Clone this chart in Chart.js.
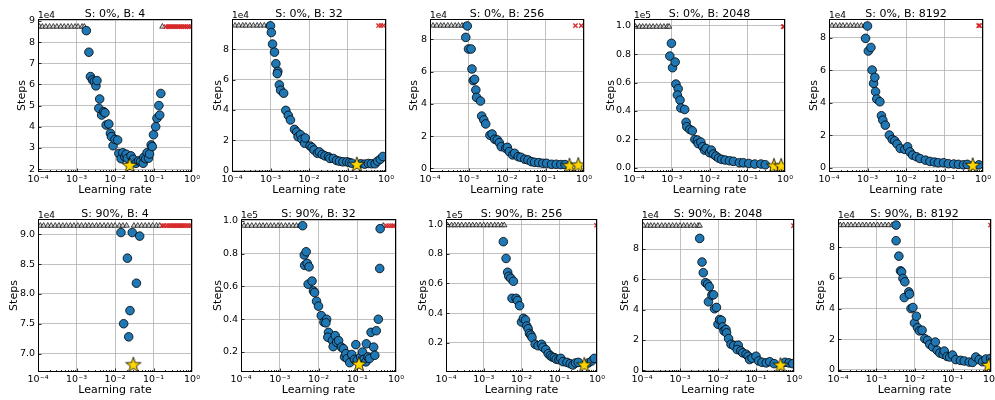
<!DOCTYPE html>
<html>
<head>
<meta charset="utf-8">
<script src="https://cdn.jsdelivr.net/npm/chart.js@4"></script>
<style>
  body { margin: 0; background: #fff; }
  #fig { position: relative; width: 995px; height: 400px; overflow: hidden; background: #fff; }
  #fig canvas { position: absolute; }
</style>
</head>
<body>
<div id="fig"></div>
<script>
// ---- tick labels ----
const xTicks = [1e-4, 1e-3, 1e-2, 1e-1, 1];
const xTickLabels = ['10⁻⁴', '10⁻³', '10⁻²', '10⁻¹', '10⁰'];

const yTicksTwoToNine = [20000, 30000, 40000, 50000, 60000, 70000, 80000, 90000];
const yLabelsTwoToNine = ['2', '3', '4', '5', '6', '7', '8', '9'];
const yTicksZeroToEight = [0, 20000, 40000, 60000, 80000];
const yLabelsZeroToEight = ['0', '2', '4', '6', '8'];
const yTicksZeroToOne = [0, 20000, 40000, 60000, 80000, 100000];
const yLabelsZeroToOne = ['0.0', '0.2', '0.4', '0.6', '0.8', '1.0'];
const yTicksSevenToNine = [70000, 75000, 80000, 85000, 90000];
const yLabelsSevenToNine = ['7.0', '7.5', '8.0', '8.5', '9.0'];
const yTicksPointTwoToOne = [20000, 40000, 60000, 80000, 100000];
const yLabelsPointTwoToOne = ['0.2', '0.4', '0.6', '0.8', '1.0'];

// ---- S: 0%, B: 4 ----  [learning rate, steps]
const s0b4Runs = [
  [1.8e-3, 85400], [2.1e-3, 75200], [2.3e-3, 63700], [2.6e-3, 62100], [2.9e-3, 61300],
  [3.2e-3, 59300], [3.4e-3, 61800], [4.0e-3, 53100], [3.8e-3, 48700], [4.5e-3, 45500],
  [5.1e-3, 47100], [5.5e-3, 46600], [5.9e-3, 40800], [6.9e-3, 41300], [7.6e-3, 36900],
  [8.1e-3, 35300], [8.9e-3, 31000], [1.0e-2, 34000], [1.17e-2, 33700], [1.26e-2, 27400],
  [1.44e-2, 24900], [1.6e-2, 27700], [1.8e-2, 25800], [1.95e-2, 27000], [2.1e-2, 25100],
  [2.6e-2, 26200], [2.95e-2, 24600], [3.5e-2, 22700], [4.1e-2, 23900], [4.6e-2, 23500],
  [5.4e-2, 22700], [5.6e-2, 25500], [6.3e-2, 24900], [6.8e-2, 27700], [7.4e-2, 25100],
  [7.9e-2, 27100], [8.7e-2, 31400], [9.3e-2, 30600], [0.100, 36200], [0.114, 40000],
  [0.123, 44000], [0.138, 50000], [0.145, 45500], [0.155, 55700]
];
const s0b4Best = [[2.4e-2, 21900]];
const s0b4CapLr = [1.1e-4, 1.3e-4, 1.6e-4, 2.0e-4, 2.5e-4, 3.1e-4, 3.9e-4, 4.8e-4, 6.0e-4, 7.4e-4, 9.2e-4, 1.1e-3, 1.4e-3, 1.6e-3, 0.17];
const s0b4CapSteps = 87300;
const s0b4DivLr = [0.21, 0.24, 0.27, 0.30, 0.34, 0.38, 0.43, 0.48, 0.54, 0.61, 0.68, 0.77, 0.86, 0.97];

// ---- S: 0%, B: 32 ----
const s0b32Runs = [
  [1.0e-3, 95300], [1.05e-3, 90900], [1.13e-3, 83300], [1.27e-3, 78000], [1.38e-3, 70400],
  [1.55e-3, 65400], [1.5e-3, 63900], [1.7e-3, 56500], [1.83e-3, 53000], [2.2e-3, 51000],
  [2.5e-3, 39700], [2.9e-3, 36400], [3.3e-3, 33400], [4.2e-3, 27200], [4.8e-3, 25500],
  [5.2e-3, 22400], [6.0e-3, 23700], [6.6e-3, 20700], [7.7e-3, 18100], [8.0e-3, 21600],
  [1.07e-2, 16300], [1.2e-2, 15300], [1.35e-2, 13700], [1.65e-2, 11500], [1.86e-2, 12400],
  [2.2e-2, 10700], [2.6e-2, 9800], [3.2e-2, 9200], [3.5e-2, 8100], [4.3e-2, 8100],
  [5.2e-2, 6800], [6.2e-2, 6300], [7.6e-2, 5900], [9.6e-2, 5900], [0.112, 5400],
  [0.13, 5000], [0.22, 4600], [0.28, 4400], [0.35, 4800], [0.42, 4600], [0.52, 4600],
  [0.60, 6300], [0.71, 7600], [0.83, 9400]
];
const s0b32Best = [[0.174, 4400]];
const s0b32CapLr = [1.2e-4, 1.5e-4, 1.9e-4, 2.3e-4, 2.9e-4, 3.6e-4, 4.5e-4, 5.5e-4, 6.9e-4, 8.5e-4];
const s0b32CapSteps = 95500;
const s0b32DivLr = [0.64, 0.74, 0.86];

// ---- S: 0%, B: 256 ----
const s0b256Runs = [
  [9.3e-4, 88300], [8.5e-4, 81200], [1.0e-3, 74000], [1.17e-3, 74000], [1.23e-3, 61600],
  [1.32e-3, 54400], [1.44e-3, 55200], [1.55e-3, 48600], [1.62e-3, 44000], [2.05e-3, 41700],
  [2.2e-3, 32400], [2.5e-3, 30000], [2.8e-3, 27500], [3.6e-3, 20500], [4.1e-3, 21300],
  [4.8e-3, 18000], [5.6e-3, 17600], [6.3e-3, 15900], [7.1e-3, 13400], [9.3e-3, 12400],
  [1.02e-2, 13000], [1.15e-2, 10300], [1.4e-2, 8300], [1.58e-2, 9300], [1.95e-2, 7200],
  [2.3e-2, 6800], [2.9e-2, 5600], [3.5e-2, 5200], [4.3e-2, 4100], [5.2e-2, 3700],
  [6.7e-2, 3500], [8.5e-2, 3100], [0.107, 3100], [0.144, 2500], [0.19, 2500],
  [0.25, 2300], [0.32, 2300]
];
const s0b256Best = [[0.42, 1900], [0.71, 2300]];
const s0b256CapLr = [1.2e-4, 1.5e-4, 1.9e-4, 2.3e-4, 2.9e-4, 3.6e-4, 4.5e-4, 5.5e-4, 6.8e-4, 7.8e-4];
const s0b256CapSteps = 88500;
const s0b256DivLr = [0.60, 0.85];

// ---- S: 0%, B: 2048 ----
const s0b2048Runs = [
  [9.8e-4, 87600], [8.9e-4, 78600], [1.05e-3, 70400], [1.23e-3, 74400], [1.29e-3, 58900],
  [1.48e-3, 55600], [1.41e-3, 51200], [1.66e-3, 47600], [1.74e-3, 42000], [2.2e-3, 41000],
  [2.4e-3, 32000], [2.5e-3, 28900], [3.0e-3, 27000], [3.5e-3, 26000], [4.1e-3, 19900],
  [4.8e-3, 19500], [5.0e-3, 17000], [5.9e-3, 18000], [6.6e-3, 14800], [7.4e-3, 12400],
  [8.1e-3, 13600], [1.0e-2, 10600], [1.12e-2, 12400], [1.26e-2, 9600], [1.48e-2, 8200],
  [1.74e-2, 6800], [2.1e-2, 5900], [2.6e-2, 5400], [3.4e-2, 4900], [4.3e-2, 4500],
  [6.2e-2, 3500], [7.9e-2, 3500], [0.11, 3000], [0.158, 2600], [0.23, 2600], [0.30, 2100]
];
const s0b2048Best = [[0.51, 1600], [0.79, 1600]];
const s0b2048CapLr = [1.1e-4, 1.4e-4, 1.7e-4, 2.1e-4, 2.6e-4, 3.2e-4, 4.0e-4, 5.0e-4, 6.2e-4, 7.6e-4, 8.5e-4];
const s0b2048CapSteps = 99300;
const s0b2048DivLr = [0.90, 0.95];

// ---- S: 0%, B: 8192 ----
const s0b8192Runs = [
  [1.0e-3, 87200], [8.9e-4, 79600], [1.05e-3, 71800], [1.23e-3, 74000], [1.32e-3, 60100],
  [1.44e-3, 51900], [1.55e-3, 55600], [1.62e-3, 46800], [1.74e-3, 42300], [2.1e-3, 40600],
  [2.3e-3, 32000], [2.5e-3, 29300], [2.9e-3, 26200], [3.7e-3, 20100], [4.4e-3, 17400],
  [5.1e-3, 16600], [5.9e-3, 14600], [7.1e-3, 11900], [9.3e-3, 11300], [1.1e-2, 12900],
  [1.26e-2, 9800], [1.48e-2, 7800], [1.86e-2, 6800], [2.3e-2, 5700], [3.2e-2, 4700],
  [4.2e-2, 3900], [5.5e-2, 3500], [6.9e-2, 3100], [9.5e-2, 3100], [0.126, 2500],
  [0.174, 2300], [0.23, 2100], [0.31, 1800], [0.39, 2100], [0.78, 1800]
];
const s0b8192Best = [[0.54, 1800]];
const s0b8192CapLr = [1.2e-4, 1.5e-4, 1.9e-4, 2.3e-4, 2.9e-4, 3.6e-4, 4.5e-4, 5.5e-4, 6.9e-4, 8.5e-4];
const s0b8192CapSteps = 87400;
const s0b8192DivLr = [0.77, 0.82];

// ---- S: 90%, B: 4 ----
const s90b4Runs = [
  [1.43e-2, 90300], [2.8e-2, 90300], [4.37e-2, 89700], [2.1e-2, 86000],
  [3.6e-2, 81800], [2.45e-2, 77200], [1.68e-2, 75000], [2.27e-2, 72800]
];
const s90b4Best = [[3.0e-2, 68200]];
const s90b4CapLr = [
  1.15e-4, 1.4e-4, 1.8e-4, 2.2e-4, 2.8e-4, 3.5e-4, 4.4e-4, 5.5e-4, 6.9e-4, 8.6e-4,
  1.08e-3, 1.35e-3, 1.7e-3, 2.1e-3, 2.6e-3, 3.3e-3, 4.1e-3, 5.2e-3, 6.5e-3, 8.1e-3,
  1.0e-2, 1.3e-2, 1.6e-2, 2.0e-2, 3.1e-2, 3.9e-2, 4.9e-2, 6.1e-2, 7.6e-2, 9.5e-2, 0.12, 0.145
];
const s90b4CapSteps = 91450;
const s90b4DivLr = [0.17, 0.19, 0.22, 0.25, 0.28, 0.32, 0.36, 0.41, 0.46, 0.52, 0.59, 0.67, 0.76, 0.86, 0.97];

// ---- S: 90%, B: 32 ----
const s90b32Runs = [
  [3.9e-3, 97100], [4.3e-3, 79200], [4.8e-3, 81200], [4.4e-3, 72900], [5.1e-3, 74100],
  [5.7e-3, 72000], [5.4e-3, 61400], [6.8e-3, 63300], [7.4e-3, 57300], [7.9e-3, 56300],
  [8.9e-3, 51000], [1.0e-2, 48000], [1.18e-2, 42200], [1.38e-2, 38200], [1.62e-2, 40000],
  [1.55e-2, 37800], [1.81e-2, 32000], [1.74e-2, 29000], [2.28e-2, 27000], [2.39e-2, 23300],
  [2.7e-2, 30000], [2.95e-2, 26000], [3.3e-2, 27000], [3.9e-2, 23000], [4.4e-2, 22000],
  [4.7e-2, 17000], [5.1e-2, 19000], [5.5e-2, 16000], [6.4e-2, 13500], [7.2e-2, 18500],
  [8.5e-2, 15500], [9.2e-2, 24500], [0.10, 15000], [0.122, 17000], [0.137, 20000],
  [0.149, 15500], [0.167, 14000], [0.172, 25000], [0.19, 17000], [0.207, 16000],
  [0.227, 32000], [0.265, 23000], [0.284, 18000], [0.31, 33000], [0.35, 40000],
  [0.38, 71000], [0.39, 95300]
];
const s90b32Best = [[0.111, 12800]];
const s90b32CapLr = [1.2e-4, 1.5e-4, 1.9e-4, 2.4e-4, 3.0e-4, 3.7e-4, 4.6e-4, 5.8e-4, 7.2e-4, 9.0e-4, 1.1e-3, 1.4e-3, 1.75e-3, 2.2e-3, 2.7e-3, 3.3e-3, 0.47];
const s90b32CapSteps = 97100;
const s90b32DivLr = [0.56, 0.64, 0.73, 0.83, 0.91];

// ---- S: 90%, B: 256 ----
const s90b256Runs = [
  [3.3e-3, 88200], [3.9e-3, 76900], [4.3e-3, 67600], [4.6e-3, 64900], [5.2e-3, 63500],
  [6.1e-3, 61500], [5.6e-3, 50000], [7.2e-3, 50000], [7.8e-3, 48500], [8.9e-3, 45000],
  [1.0e-2, 34000], [1.12e-2, 36500], [1.28e-2, 35400], [1.38e-2, 31300], [1.5e-2, 29500],
  [1.62e-2, 26300], [1.77e-2, 25200], [1.9e-2, 23600], [2.3e-2, 19000], [2.75e-2, 18000],
  [3.4e-2, 19000], [3.7e-2, 17000], [4.4e-2, 15400], [5.1e-2, 12700], [5.8e-2, 11300],
  [6.5e-2, 10400], [7.4e-2, 10000], [8.3e-2, 9000], [9.8e-2, 8600], [0.11, 9500],
  [0.126, 7300], [0.16, 6800], [0.195, 5900], [0.23, 5000], [0.27, 6400], [0.32, 6800],
  [0.59, 6400], [0.72, 7700], [0.85, 9500]
];
const s90b256Best = [[0.46, 5400]];
const s90b256CapLr = [1.1e-4, 1.4e-4, 1.7e-4, 2.1e-4, 2.6e-4, 3.3e-4, 4.1e-4, 5.1e-4, 6.4e-4, 8.0e-4, 1.0e-3, 1.25e-3, 1.55e-3, 1.95e-3, 2.4e-3, 3.0e-3, 3.5e-3];
const s90b256CapSteps = 99300;
const s90b256DivLr = [0.97];

// ---- S: 90%, B: 2048 ----
const s90b2048Runs = [
  [3.3e-3, 87000], [3.8e-3, 71400], [4.1e-3, 64400], [4.7e-3, 57800], [5.3e-3, 56900],
  [5.9e-3, 55100], [5.6e-3, 45200], [6.9e-3, 49600], [7.6e-3, 49800], [8.1e-3, 40600],
  [9.1e-3, 41500], [1.0e-2, 30400], [1.1e-2, 33500], [1.23e-2, 33000], [1.32e-2, 28600],
  [1.44e-2, 26000], [1.62e-2, 26900], [1.68e-2, 24700], [1.9e-2, 20900], [2.2e-2, 17200],
  [2.6e-2, 16300], [3.4e-2, 16500], [3.2e-2, 13700], [4.0e-2, 12800], [4.5e-2, 11500],
  [5.5e-2, 10600], [6.2e-2, 9300], [6.8e-2, 7100], [7.9e-2, 8000], [0.10, 9300],
  [0.117, 6200], [0.144, 5300], [0.186, 4900], [0.23, 5700], [0.30, 4400],
  [0.58, 5300], [0.74, 4900], [0.93, 4400]
];
const s90b2048Best = [[0.44, 3700]];
const s90b2048CapLr = [1.1e-4, 1.4e-4, 1.7e-4, 2.1e-4, 2.6e-4, 3.3e-4, 4.1e-4, 5.1e-4, 6.4e-4, 8.0e-4, 1.0e-3, 1.25e-3, 1.55e-3, 1.95e-3, 2.4e-3, 3.0e-3, 3.3e-3];
const s90b2048CapSteps = 95400;
const s90b2048DivLr = [0.97];

// ---- S: 90%, B: 8192 ----
const s90b8192Runs = [
  [3.3e-3, 94600], [3.3e-3, 84400], [3.9e-3, 74300], [4.3e-3, 64700], [4.6e-3, 64000],
  [5.0e-3, 59700], [5.6e-3, 57500], [5.4e-3, 47200], [7.1e-3, 50900], [7.4e-3, 49400],
  [8.1e-3, 40000], [9.1e-3, 40700], [1.0e-2, 30600], [1.12e-2, 35000], [1.2e-2, 27500],
  [1.35e-2, 25400], [1.58e-2, 25800], [1.86e-2, 20300], [2.2e-2, 19200], [2.5e-2, 16600],
  [3.0e-2, 14900], [3.5e-2, 18100], [3.9e-2, 12700], [4.6e-2, 10900], [5.6e-2, 10100],
  [6.0e-2, 12200], [7.1e-2, 8700], [8.3e-2, 8300], [9.8e-2, 9600], [0.12, 6600],
  [0.16, 6100], [0.20, 5700], [0.27, 5000], [0.33, 4800], [0.40, 8300], [0.49, 6600],
  [0.60, 5200], [0.74, 7000], [0.98, 7400]
];
const s90b8192Best = [[0.87, 3100]];
const s90b8192CapLr = [1.15e-4, 1.4e-4, 1.8e-4, 2.2e-4, 2.8e-4, 3.5e-4, 4.4e-4, 5.5e-4, 6.9e-4, 8.6e-4, 1.08e-3, 1.35e-3, 1.7e-3, 2.1e-3, 2.6e-3, 3.2e-3];
const s90b8192CapSteps = 94600;
const s90b8192DivLr = [0.97];

// ---- panels ----
const panels = [
  { title: 'S: 0%, B: 4', runs: s0b4Runs, best: s0b4Best, capLr: s0b4CapLr, capSteps: s0b4CapSteps, divLr: s0b4DivLr,
    yMin: 18600, yMax: 90900, yTicks: yTicksTwoToNine, yLabels: yLabelsTwoToNine, offset: '1e4' },
  { title: 'S: 0%, B: 32', runs: s0b32Runs, best: s0b32Best, capLr: s0b32CapLr, capSteps: s0b32CapSteps, divLr: s0b32DivLr,
    yMin: -800, yMax: 99800, yTicks: yTicksZeroToEight, yLabels: yLabelsZeroToEight, offset: '1e4' },
  { title: 'S: 0%, B: 256', runs: s0b256Runs, best: s0b256Best, capLr: s0b256CapLr, capSteps: s0b256CapSteps, divLr: s0b256DivLr,
    yMin: -2300, yMax: 92600, yTicks: yTicksZeroToEight, yLabels: yLabelsZeroToEight, offset: '1e4' },
  { title: 'S: 0%, B: 2048', runs: s0b2048Runs, best: s0b2048Best, capLr: s0b2048CapLr, capSteps: s0b2048CapSteps, divLr: s0b2048DivLr,
    yMin: -3000, yMax: 104700, yTicks: yTicksZeroToOne, yLabels: yLabelsZeroToOne, offset: '1e5' },
  { title: 'S: 0%, B: 8192', runs: s0b8192Runs, best: s0b8192Best, capLr: s0b8192CapLr, capSteps: s0b8192CapSteps, divLr: s0b8192DivLr,
    yMin: -2600, yMax: 91500, yTicks: yTicksZeroToEight, yLabels: yLabelsZeroToEight, offset: '1e4' },
  { title: 'S: 90%, B: 4', runs: s90b4Runs, best: s90b4Best, capLr: s90b4CapLr, capSteps: s90b4CapSteps, divLr: s90b4DivLr,
    yMin: 66900, yMax: 92570, yTicks: yTicksSevenToNine, yLabels: yLabelsSevenToNine, offset: '1e4' },
  { title: 'S: 90%, B: 32', runs: s90b32Runs, best: s90b32Best, capLr: s90b32CapLr, capSteps: s90b32CapSteps, divLr: s90b32DivLr,
    yMin: 7800, yMax: 101200, yTicks: yTicksPointTwoToOne, yLabels: yLabelsPointTwoToOne, offset: '1e5' },
  { title: 'S: 90%, B: 256', runs: s90b256Runs, best: s90b256Best, capLr: s90b256CapLr, capSteps: s90b256CapSteps, divLr: s90b256DivLr,
    yMin: 300, yMax: 103500, yTicks: yTicksPointTwoToOne, yLabels: yLabelsPointTwoToOne, offset: '1e5' },
  { title: 'S: 90%, B: 2048', runs: s90b2048Runs, best: s90b2048Best, capLr: s90b2048CapLr, capSteps: s90b2048CapSteps, divLr: s90b2048DivLr,
    yMin: -1100, yMax: 99800, yTicks: yTicksZeroToEight, yLabels: yLabelsZeroToEight, offset: '1e4' },
  { title: 'S: 90%, B: 8192', runs: s90b8192Runs, best: s90b8192Best, capLr: s90b8192CapLr, capSteps: s90b8192CapSteps, divLr: s90b8192DivLr,
    yMin: -1500, yMax: 98600, yTicks: yTicksZeroToEight, yLabels: yLabelsZeroToEight, offset: '1e4' }
];

// plot-area placement on the page: left, right, top edges and x of the "Steps" label
const boxes = [
  { left: 38, right: 192, top: 19, titleX: 23 },
  { left: 232, right: 386, top: 19, titleX: 219 },
  { left: 430, right: 584, top: 19, titleX: 415 },
  { left: 634, right: 785, top: 19, titleX: 612 },
  { left: 829, right: 983, top: 19, titleX: 815 },
  { left: 38, right: 192, top: 219, titleX: 15 },
  { left: 241, right: 396, top: 219, titleX: 219 },
  { left: 446, right: 597, top: 219, titleX: 424 },
  { left: 642, right: 794, top: 219, titleX: 626 },
  { left: 838, right: 991, top: 219, titleX: 822 }
];

const FONT = 'DejaVu Sans';
Chart.defaults.font.family = FONT;
Chart.defaults.color = '#000';

const PLOT_H = 153, TOP_PAD = 19, BOTTOM_H = 25, RIGHT_PAD = 14;

function makeStar(size) {
  const c = document.createElement('canvas');
  c.width = c.height = size;
  const g = c.getContext('2d');
  const cx = size / 2, cy = size / 2 + 0.8, r = size / 2 - 1;
  g.beginPath();
  for (let i = 0; i < 10; i++) {
    const a = -Math.PI / 2 + i * Math.PI / 5;
    const rr = i % 2 ? r * 0.4 : r;
    g.lineTo(cx + rr * Math.cos(a), cy + rr * Math.sin(a));
  }
  g.closePath();
  g.fillStyle = '#ffd700';
  g.fill();
  g.strokeStyle = '#000';
  g.lineWidth = 0.8;
  g.stroke();
  return c;
}
const starImg = makeStar(18);

// frame, inward ticks, panel title and offset text
const decor = {
  id: 'decor',
  afterDraw(chart, args, opts) {
    const { ctx, chartArea: a, scales: { x, y } } = chart;
    ctx.save();
    ctx.strokeStyle = '#000';
    ctx.lineWidth = 0.8;
    ctx.beginPath();
    for (let d = -4; d < 0; d++) {
      for (let k = 1; k < 10; k++) {
        const px = Math.round(x.getPixelForValue(k * Math.pow(10, d))) + 0.5;
        const len = k === 1 ? 3.5 : 2;
        ctx.moveTo(px, a.bottom);
        ctx.lineTo(px, a.bottom - len);
      }
    }
    y.ticks.forEach(t => {
      const py = Math.round(y.getPixelForValue(t.value)) + 0.5;
      ctx.moveTo(a.left, py);
      ctx.lineTo(a.left + 3.5, py);
    });
    ctx.stroke();
    ctx.lineWidth = 1;
    ctx.strokeRect(a.left + 0.5, a.top + 0.5, a.right - a.left - 1, a.bottom - a.top - 1);

    ctx.fillStyle = '#000';
    ctx.textBaseline = 'alphabetic';
    ctx.font = '11px "' + FONT + '"';
    ctx.textAlign = 'center';
    ctx.fillText(opts.title, (a.left + a.right) / 2, a.top - 2);
    ctx.font = '9px "' + FONT + '"';
    ctx.textAlign = 'left';
    ctx.fillText(opts.offset, a.left, a.top - 1.5);
    ctx.restore();
  }
};

const fig = document.getElementById('fig');

panels.forEach((p, i) => {
  const b = boxes[i];
  const canvasLeft = Math.round(b.titleX - 8.6);
  const axisW = b.left - canvasLeft;
  const width = axisW + (b.right - b.left) + RIGHT_PAD;
  const height = TOP_PAD + PLOT_H + BOTTOM_H;

  const canvas = document.createElement('canvas');
  canvas.width = width;
  canvas.height = height;
  canvas.style.left = canvasLeft + 'px';
  canvas.style.top = (b.top - TOP_PAD) + 'px';
  fig.appendChild(canvas);

  const toPts = arr => arr.map(r => ({ x: r[0], y: r[1] }));

  new Chart(canvas, {
    type: 'scatter',
    data: {
      datasets: [
        { data: toPts(p.best), pointStyle: starImg, pointRadius: 9 },
        { data: toPts(p.runs), pointStyle: 'circle', pointRadius: 4.3,
          backgroundColor: '#1f77b4', borderColor: '#000', borderWidth: 0.8 },
        { data: p.divLr.map(lr => ({ x: lr, y: p.capSteps })), pointStyle: 'crossRot', pointRadius: 3,
          borderColor: '#d62728', backgroundColor: '#d62728', borderWidth: 1.3 },
        { data: p.capLr.map(lr => ({ x: lr, y: p.capSteps })), pointStyle: 'triangle', pointRadius: 3.1,
          backgroundColor: '#d3d3d3', borderColor: '#000', borderWidth: 0.7 }
      ]
    },
    options: {
      responsive: false,
      animation: false,
      devicePixelRatio: 1,
      events: [],
      layout: { padding: { top: TOP_PAD, right: RIGHT_PAD, left: 0, bottom: 0 } },
      plugins: {
        legend: { display: false },
        tooltip: { enabled: false },
        decor: { title: p.title, offset: p.offset }
      },
      scales: {
        x: {
          type: 'logarithmic',
          min: 1e-4,
          max: 1,
          afterBuildTicks: s => { s.ticks = xTicks.map(v => ({ value: v })); },
          afterFit: s => { s.height = BOTTOM_H; },
          ticks: {
            callback: v => xTickLabels[xTicks.indexOf(v)],
            font: { size: 9.5 }, color: '#000', padding: 2, maxRotation: 0, autoSkip: false
          },
          grid: { color: '#b0b0b0', lineWidth: 0.8, drawTicks: false },
          border: { display: false },
          title: { display: true, text: 'Learning rate', font: { size: 11 }, color: '#000', padding: { top: 0, bottom: 0 } }
        },
        y: {
          min: p.yMin,
          max: p.yMax,
          afterBuildTicks: s => { s.ticks = p.yTicks.map(v => ({ value: v })); },
          afterFit: s => { s.width = axisW; },
          ticks: {
            callback: v => p.yLabels[p.yTicks.indexOf(v)],
            font: { size: 9.5 }, color: '#000', padding: 3
          },
          grid: { color: '#b0b0b0', lineWidth: 0.8, drawTicks: false },
          border: { display: false },
          title: { display: true, text: 'Steps', font: { size: 11 }, color: '#000', padding: { top: 2, bottom: 0 } }
        }
      }
    },
    plugins: [decor]
  });
});
</script>
</body>
</html>
